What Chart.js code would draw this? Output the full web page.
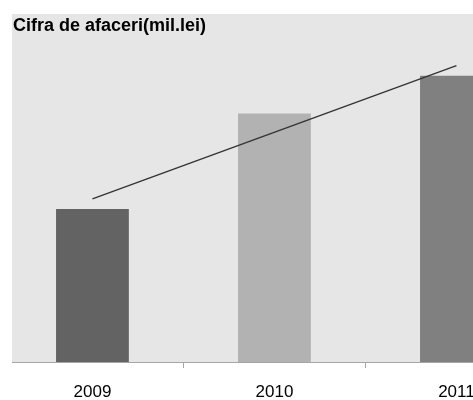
<!DOCTYPE html>
<html><head><meta charset="utf-8">
<script src="https://cdn.jsdelivr.net/npm/chart.js@4/dist/chart.umd.min.js"></script>
<style>
html,body{margin:0;padding:0;background:#fff;overflow:hidden}
#wrap{position:relative;width:473px;height:400px}
#title{position:absolute;left:13px;top:15px;line-height:18px;font:bold 18px "Liberation Sans",Arial,sans-serif;color:#000;white-space:nowrap}
</style></head>
<body>
<div id="wrap"><canvas id="c" width="473" height="400"></canvas><div id="title">Cifra de afaceri(mil.lei)</div></div>
<script>
const categories = ['2009', '2010', '2011'];
const values = [154, 250, 288];
const trendValues = [164, 298];
const barColors = ['#636363', '#b2b2b2', '#808080'];

const bgPlugin = {
  id: 'bg',
  beforeDraw(chart) {
    const a = chart.chartArea, ctx = chart.ctx;
    ctx.save();
    ctx.fillStyle = '#e6e6e6';
    ctx.fillRect(a.left, a.top, a.right - a.left, a.bottom - a.top);
    ctx.restore();
  }
};

new Chart(document.getElementById('c'), {
  data: {
    datasets: [
      {
        type: 'bar',
        data: values.map((v, i) => ({ x: i, y: v })),
        backgroundColor: barColors,
        borderWidth: 0,
        barPercentage: 0.4,
        categoryPercentage: 1,
        order: 2
      },
      {
        type: 'line',
        data: [{ x: 0, y: trendValues[0] }, { x: categories.length - 1, y: trendValues[1] }],
        borderColor: '#333333',
        borderWidth: 1.3,
        pointRadius: 0,
        fill: false,
        order: 1
      }
    ]
  },
  options: {
    responsive: false,
    animation: false,
    devicePixelRatio: 1,
    layout: { padding: { left: 12, top: 14, right: 0, bottom: 0 } },
    plugins: { legend: { display: false }, tooltip: { enabled: false }, title: { display: false } },
    scales: {
      x: {
        type: 'linear',
        offset: false,
        min: -0.442,
        max: 2.091,
        afterBuildTicks: s => { s.ticks = categories.map((c, i) => ({ value: i })); },
        afterFit: s => { s.height = 38; s.paddingLeft = 0; s.paddingRight = 0; },
        ticks: {
          callback: v => categories[v],
          font: { family: '"Liberation Sans", Arial, sans-serif', size: 17 },
          color: '#000',
          padding: 14,
          maxRotation: 0,
          autoSkip: false
        },
        grid: { offset: true, drawOnChartArea: false, tickLength: 6, color: '#a6a6a6', lineWidth: 1 },
        border: { color: '#a6a6a6', width: 1 }
      },
      y: { display: false, min: 0, max: 350 }
    }
  },
  plugins: [bgPlugin]
});
</script>
</body></html>
